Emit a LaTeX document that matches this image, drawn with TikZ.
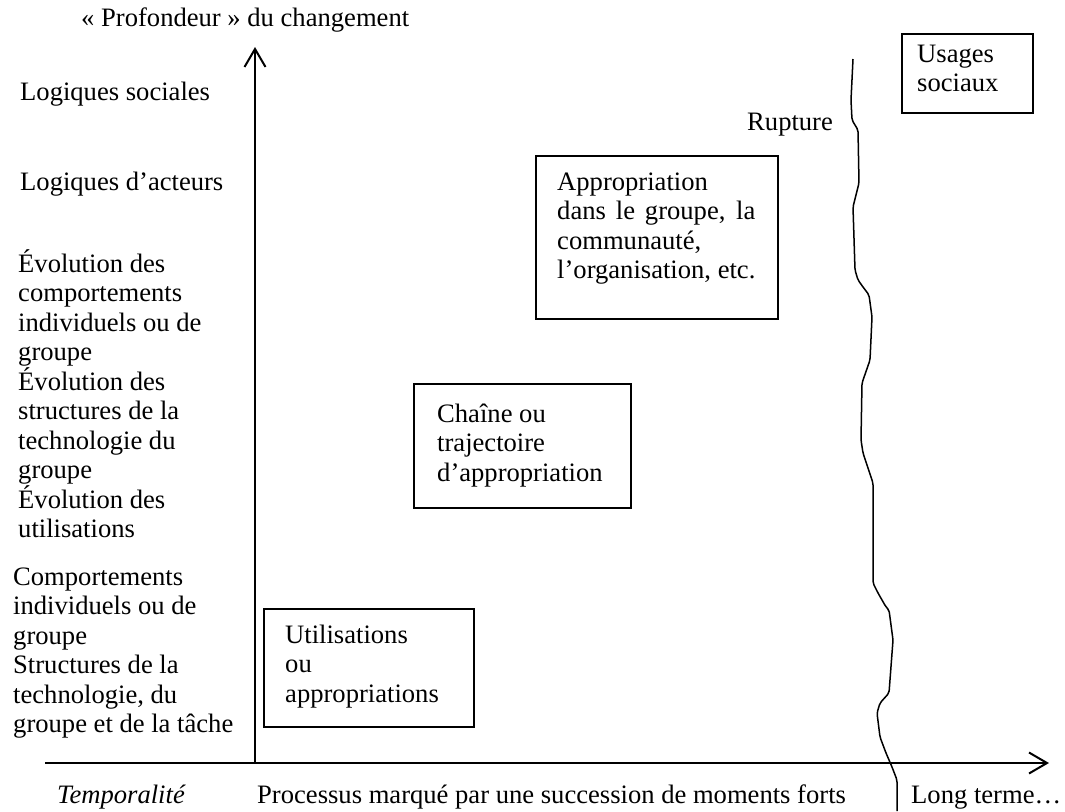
\documentclass[tikz,border=0pt]{standalone}
\usepackage{fontspec}
\setmainfont{Liberation Serif}
\usetikzlibrary{arrows.meta}
\newlength\orgw
\newcommand\tstrut{\rule{0pt}{24pt}}
\newcommand\txtfont{\fontsize{26.6}{29.5}\selectfont}
\begin{document}
{\txtfont\global\setlength\orgw{0pt}\settowidth{\orgw}{l’organisation, etc.}\global\orgw=\orgw}%
\begin{tikzpicture}[x=1pt,y=-1pt,
  txt/.style={anchor=north west, inner sep=0pt, align=left, font=\txtfont},
  box/.style={draw, line width=1.5pt, anchor=north west, inner sep=0pt},
  axis/.style={line width=2pt, -{Straight Barb[length=18pt,width=21pt,line width=2pt]}},
  wave/.style={line width=1.5pt, rounded corners=2pt}]
\useasboundingbox (0,0) rectangle (1065,811);

% axes
\coordinate (O) at (255,763);
\coordinate (ytop) at (255,47);
\coordinate (xs) at (45,763);
\coordinate (xe) at (1049,763);
\draw[axis] (O) -- (ytop);
\draw[axis] (xs) -- (xe);

% left labels
\node[txt] (title) at (81,2) {\tstrut« Profondeur » du changement};
\node[txt] (ls) at (20,76) {\tstrut Logiques sociales};
\node[txt] (la) at (20,166) {\tstrut Logiques d’acteurs};
\node[txt] (evo) at (18,248) {\tstrut Évolution des\\comportements\\individuels ou de\\groupe\\Évolution des\\structures de la\\technologie du\\groupe\\Évolution des\\utilisations};
\node[txt] (comp) at (13,561) {\tstrut Comportements\\individuels ou de\\groupe\\Structures de la\\technologie, du\\groupe et de la tâche};

% bottom labels
\node[txt] (temp) at (57,779) {\tstrut\itshape Temporalité};
\node[txt] (proc) at (257,779) {\tstrut Processus marqué par une succession de moments forts};
\node[txt] (long) at (911,779) {\tstrut Long terme…};

% boxes
\node[box, minimum width=210pt, minimum height=118pt] (b1) at (263,608) {};
\node[txt] (t1) at (285,619) {\tstrut Utilisations\\ou\\appropriations};

\node[box, minimum width=217pt, minimum height=124pt] (b2) at (413,383) {};
\node[txt] (t2) at (437,398) {\tstrut Chaîne ou\\trajectoire\\d’appropriation};

\node[box, minimum width=242pt, minimum height=163pt] (b3) at (535,155) {};
\node[txt] (t3) at (557,166) {\tstrut Appropriation\\\makebox[\orgw][s]{dans le groupe, la}\\communauté,\\l’organisation, etc.};

\node[box, minimum width=131pt, minimum height=79pt] (b4) at (901,33) {};
\node[txt] (t4) at (917,38) {\tstrut Usages\\sociaux};

% rupture
\node[txt] (rup) at (747,106) {\tstrut Rupture};
\draw[wave] (853,59) -- (851,100) -- (852,120) -- (858,130) -- (859,183) -- (853,207)
  -- (855,270) -- (858,280) -- (863,287) -- (869,295) -- (872,317) -- (870,360)
  -- (862,383) -- (861,440) -- (863,453) -- (873,483) -- (873,583) -- (878,593)
  -- (886,607) -- (889,610) -- (893,640) -- (889,693) -- (880,703) -- (877,713)
  -- (880,737) -- (886,753) -- (892,767) -- (897,780) -- (897,811);
\end{tikzpicture}
\end{document}
